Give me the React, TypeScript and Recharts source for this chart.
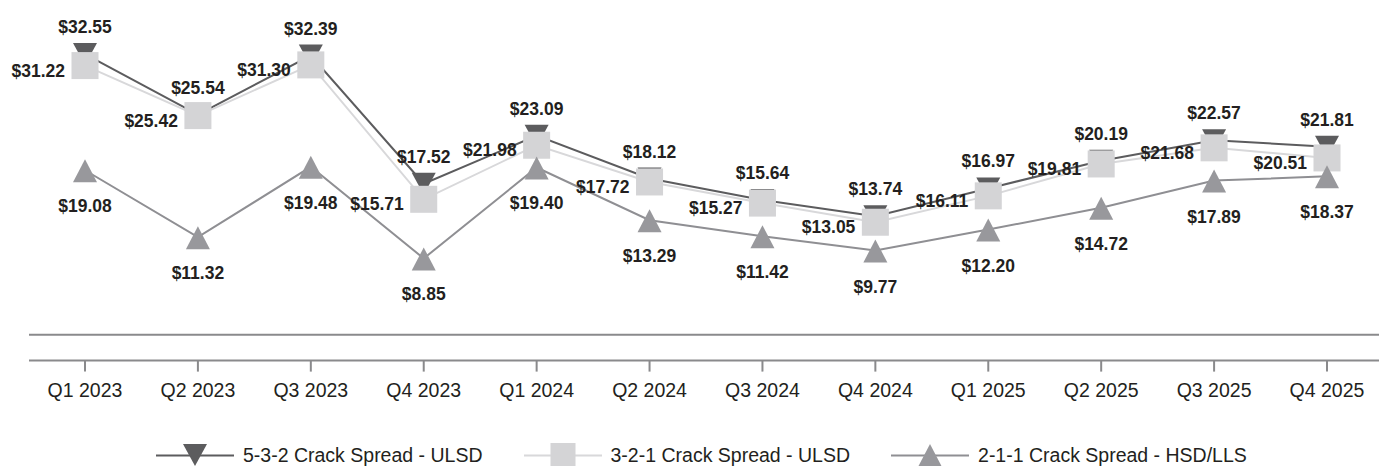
import React from "react";
import { LineChart, Line, XAxis, YAxis, ReferenceLine, LabelList } from "recharts";

const categories = ["Q1 2023", "Q2 2023", "Q3 2023", "Q4 2023", "Q1 2024", "Q2 2024", "Q3 2024", "Q4 2024", "Q1 2025", "Q2 2025", "Q3 2025", "Q4 2025"];
const crack532 = [32.55, 25.54, 32.39, 17.52, 23.09, 18.12, 15.64, 13.74, 16.97, 20.19, 22.57, 21.81];
const crack321 = [31.22, 25.42, 31.3, 15.71, 21.98, 17.72, 15.27, 13.05, 16.11, 19.81, 21.68, 20.51];
const crack211 = [19.08, 11.32, 19.48, 8.85, 19.4, 13.29, 11.42, 9.77, 12.2, 14.72, 17.89, 18.37];
const seriesNames = ["5-3-2 Crack Spread - ULSD", "3-2-1 Crack Spread - ULSD", "2-1-1 Crack Spread - HSD/LLS"];

const data = categories.map((c, i) => ({ q: c, a: crack532[i], b: crack321[i], c: crack211[i] }));

const FONT = '"Liberation Sans", Arial, sans-serif';
const LABEL_COLOR = "#231f20";
const DARK = "#5c5c5e";
const LIGHT_LINE = "#d8d8da";
const LIGHT_MARK = "#d4d4d6";
const MID_LINE = "#8f8f93";
const MID_MARK = "#98989c";
const AXIS = "#8a8a8c";

const fmt = (v: number) => "$" + Number(v).toFixed(2);

const DownTri = (p: any) => {
  const { cx, cy } = p;
  if (cx == null || cy == null) return <g key={p.key} />;
  return <path key={p.key} d={`M${cx - 12},${cy - 11} L${cx + 12},${cy - 11} L${cx},${cy + 11} Z`} fill={DARK} />;
};
const UpTri = (p: any) => {
  const { cx, cy } = p;
  if (cx == null || cy == null) return <g key={p.key} />;
  return <path key={p.key} d={`M${cx - 12},${cy + 12} L${cx + 12},${cy + 12} L${cx},${cy - 11} Z`} fill={MID_MARK} />;
};
const Sq = (p: any) => {
  const { cx, cy } = p;
  if (cx == null || cy == null) return <g key={p.key} />;
  return <rect key={p.key} x={cx - 13.5} y={cy - 13.5} width={27} height={27} fill={LIGHT_MARK} />;
};

const mkLabel = (dx: number, dy: number, anchor: "middle" | "end") => (p: any) => {
  const { x, y, value } = p;
  return (
    <text x={x + dx} y={y + dy} textAnchor={anchor} fill={LABEL_COLOR} fontFamily={FONT} fontWeight="bold" fontSize={17.5}>
      {fmt(value)}
    </text>
  );
};

const legendIcon = (kind: number) => {
  const w = 78;
  const c = w / 2;
  if (kind === 0)
    return (
      <svg width={w} height={24}>
        <line x1={0} y1={12.5} x2={w} y2={12.5} stroke={DARK} strokeWidth={2} />
        <path d={`M${c - 12},${1} L${c + 12},${1} L${c},${23} Z`} fill={DARK} />
      </svg>
    );
  if (kind === 1)
    return (
      <svg width={w} height={24}>
        <line x1={0} y1={12.5} x2={w} y2={12.5} stroke={LIGHT_LINE} strokeWidth={2} />
        <rect x={c - 12.5} y={0} width={25} height={25} fill={LIGHT_MARK} />
      </svg>
    );
  return (
    <svg width={w} height={24}>
      <line x1={0} y1={12.5} x2={w} y2={12.5} stroke={MID_LINE} strokeWidth={2} />
      <path d={`M${c - 12},${24} L${c + 12},${24} L${c},${1} Z`} fill={MID_MARK} />
    </svg>
  );
};

export default function App() {
  return (
    <div style={{ position: "absolute", left: 0, top: 0, width: 1379, height: 466, overflow: "hidden", background: "#fff" }}>
      <LineChart width={1384} height={466} data={data} margin={{ top: 33, right: 1, bottom: 75.4, left: 29 }}>
        <XAxis
          dataKey="q"
          padding={{ left: 56, right: 56 }}
          axisLine={{ stroke: AXIS, strokeWidth: 2 }}
          tickLine={{ stroke: AXIS, strokeWidth: 2 }}
          tickSize={11}
          tickMargin={12}
          tick={{ fill: LABEL_COLOR, fontSize: 19.5, fontFamily: FONT }}
          interval={0}
        />
        <YAxis hide domain={[-3, 35]} />
        <ReferenceLine y={0} stroke={AXIS} strokeWidth={2} />
        <Line dataKey="a" stroke={DARK} strokeWidth={2} dot={DownTri} activeDot={false} isAnimationActive={false}>
          <LabelList dataKey="a" content={mkLabel(0, -21, "middle")} />
        </Line>
        <Line dataKey="b" stroke={LIGHT_LINE} strokeWidth={2} dot={Sq} activeDot={false} isAnimationActive={false}>
          <LabelList dataKey="b" content={mkLabel(-20, 11, "end")} />
        </Line>
        <Line dataKey="c" stroke={MID_LINE} strokeWidth={2} dot={UpTri} activeDot={false} isAnimationActive={false}>
          <LabelList dataKey="c" content={mkLabel(0, 42, "middle")} />
        </Line>
      </LineChart>
      <div style={{ position: "absolute", left: 156, top: 443, display: "flex", alignItems: "center", fontFamily: FONT, fontSize: 19.5, color: LABEL_COLOR, whiteSpace: "nowrap" }}>
        {seriesNames.map((n, i) => (
          <div key={n} style={{ display: "flex", alignItems: "center", marginRight: i < 2 ? 41 : 0 }}>
            {legendIcon(i)}
            <span style={{ marginLeft: 9 }}>{n}</span>
          </div>
        ))}
      </div>
    </div>
  );
}
